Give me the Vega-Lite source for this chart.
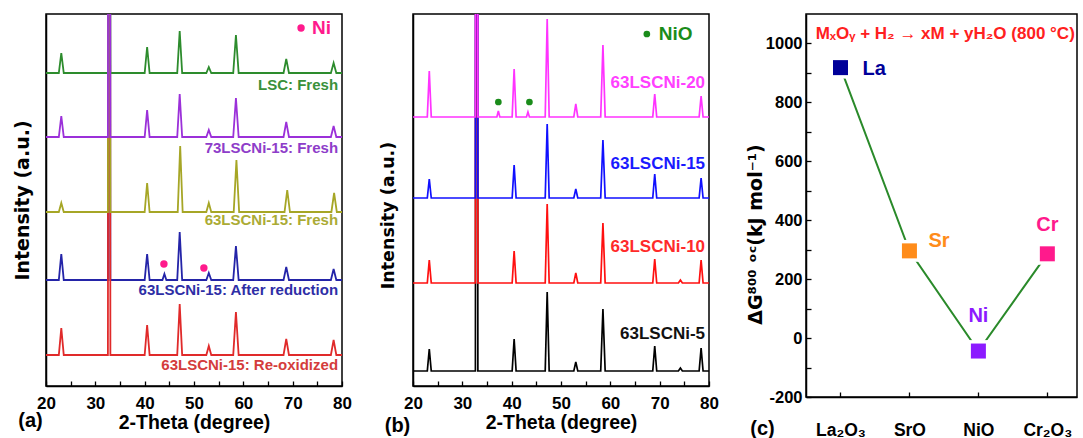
{
"$schema":"https://vega.github.io/schema/vega-lite/v6.json",
"padding":{"left":12,"top":13,"right":0,"bottom":0},
"spacing":25,
"background":"white",
"config":{
 "font":"Liberation Sans",
 "view":{"stroke":"black","strokeWidth":1.5},
 "axis":{"grid":false,"domainColor":"black","domainWidth":1.5,"tickColor":"black","tickWidth":1.3,"labelFont":"Liberation Sans","labelFontWeight":"bold","labelColor":"black","titleFont":"Liberation Sans","titleFontWeight":"bold","titleColor":"black","labelFlush":false,"labelOverlap":false},
 "text":{"font":"Liberation Sans","fontWeight":"bold"}
},
"resolve":{"scale":{"color":"independent"}},
"datasets":{
 "xrdA":[
  {"s":"g","x":20,"y":313},{"s":"g","x":22.6,"y":313},{"s":"g","x":23.1,"y":333},{"s":"g","x":23.6,"y":313},{"s":"g","x":32.55,"y":313},{"s":"g","x":32.8,"y":1500},{"s":"g","x":33.05,"y":313},{"s":"g","x":40.0,"y":313},{"s":"g","x":40.5,"y":339},{"s":"g","x":41.0,"y":313},{"s":"g","x":46.6,"y":313},{"s":"g","x":47.1,"y":355},{"s":"g","x":47.6,"y":313},{"s":"g","x":52.5,"y":313},{"s":"g","x":53.0,"y":319},{"s":"g","x":53.5,"y":313},{"s":"g","x":57.95,"y":313},{"s":"g","x":58.5,"y":351},{"s":"g","x":59.05,"y":313},{"s":"g","x":68.15,"y":313},{"s":"g","x":68.7,"y":327},{"s":"g","x":69.25,"y":313},{"s":"g","x":77.75,"y":313},{"s":"g","x":78.3,"y":323},{"s":"g","x":78.85,"y":313},{"s":"g","x":80,"y":313},
  {"s":"p","x":20,"y":249},{"s":"p","x":22.6,"y":249},{"s":"p","x":23.1,"y":270},{"s":"p","x":23.6,"y":249},{"s":"p","x":32.55,"y":249},{"s":"p","x":32.8,"y":1500},{"s":"p","x":33.05,"y":249},{"s":"p","x":40.0,"y":249},{"s":"p","x":40.5,"y":276},{"s":"p","x":41.0,"y":249},{"s":"p","x":46.6,"y":249},{"s":"p","x":47.1,"y":292},{"s":"p","x":47.6,"y":249},{"s":"p","x":52.5,"y":249},{"s":"p","x":53.0,"y":256},{"s":"p","x":53.5,"y":249},{"s":"p","x":57.95,"y":249},{"s":"p","x":58.5,"y":288},{"s":"p","x":59.05,"y":249},{"s":"p","x":68.15,"y":249},{"s":"p","x":68.7,"y":264},{"s":"p","x":69.25,"y":249},{"s":"p","x":77.75,"y":249},{"s":"p","x":78.3,"y":260},{"s":"p","x":78.85,"y":249},{"s":"p","x":80,"y":249},
  {"s":"o","x":20,"y":174},{"s":"o","x":22.6,"y":174},{"s":"o","x":23.1,"y":183},{"s":"o","x":23.6,"y":174},{"s":"o","x":32.55,"y":174},{"s":"o","x":32.8,"y":1500},{"s":"o","x":33.05,"y":174},{"s":"o","x":40.0,"y":174},{"s":"o","x":40.5,"y":203},{"s":"o","x":41.0,"y":174},{"s":"o","x":46.7,"y":174},{"s":"o","x":47.2,"y":240},{"s":"o","x":47.7,"y":174},{"s":"o","x":52.5,"y":174},{"s":"o","x":53.0,"y":183},{"s":"o","x":53.5,"y":174},{"s":"o","x":58.05,"y":174},{"s":"o","x":58.6,"y":226},{"s":"o","x":59.15,"y":174},{"s":"o","x":68.35,"y":174},{"s":"o","x":68.9,"y":196},{"s":"o","x":69.45,"y":174},{"s":"o","x":77.85,"y":174},{"s":"o","x":78.4,"y":193},{"s":"o","x":78.95,"y":174},{"s":"o","x":80,"y":174},
  {"s":"b","x":20,"y":106},{"s":"b","x":22.6,"y":106},{"s":"b","x":23.1,"y":132},{"s":"b","x":23.6,"y":106},{"s":"b","x":32.55,"y":106},{"s":"b","x":32.8,"y":1500},{"s":"b","x":33.05,"y":106},{"s":"b","x":40.0,"y":106},{"s":"b","x":40.5,"y":132},{"s":"b","x":41.0,"y":106},{"s":"b","x":43.6,"y":106},{"s":"b","x":44.0,"y":112},{"s":"b","x":44.4,"y":106},{"s":"b","x":46.6,"y":106},{"s":"b","x":47.1,"y":154},{"s":"b","x":47.6,"y":106},{"s":"b","x":52.5,"y":106},{"s":"b","x":53.0,"y":113},{"s":"b","x":53.5,"y":106},{"s":"b","x":57.95,"y":106},{"s":"b","x":58.5,"y":140},{"s":"b","x":59.05,"y":106},{"s":"b","x":68.15,"y":106},{"s":"b","x":68.7,"y":119},{"s":"b","x":69.25,"y":106},{"s":"b","x":77.75,"y":106},{"s":"b","x":78.3,"y":117},{"s":"b","x":78.85,"y":106},{"s":"b","x":80,"y":106},
  {"s":"r","x":20,"y":31},{"s":"r","x":22.6,"y":31},{"s":"r","x":23.1,"y":58},{"s":"r","x":23.6,"y":31},{"s":"r","x":32.55,"y":31},{"s":"r","x":32.8,"y":1500},{"s":"r","x":33.05,"y":31},{"s":"r","x":40.0,"y":31},{"s":"r","x":40.5,"y":61},{"s":"r","x":41.0,"y":31},{"s":"r","x":46.6,"y":31},{"s":"r","x":47.1,"y":82},{"s":"r","x":47.6,"y":31},{"s":"r","x":52.5,"y":31},{"s":"r","x":53.0,"y":40},{"s":"r","x":53.5,"y":31},{"s":"r","x":57.95,"y":31},{"s":"r","x":58.5,"y":74},{"s":"r","x":59.05,"y":31},{"s":"r","x":68.15,"y":31},{"s":"r","x":68.7,"y":47},{"s":"r","x":69.25,"y":31},{"s":"r","x":77.75,"y":31},{"s":"r","x":78.3,"y":46},{"s":"r","x":78.85,"y":31},{"s":"r","x":80,"y":31}
 ],
 "xrdB":[
  {"s":"m","x":20,"y":269},{"s":"m","x":22.9,"y":269},{"s":"m","x":23.3,"y":315},{"s":"m","x":23.7,"y":269},{"s":"m","x":32.65,"y":269},{"s":"m","x":32.9,"y":1500},{"s":"m","x":33.15,"y":269},{"s":"m","x":37.0,"y":269},{"s":"m","x":37.3,"y":275},{"s":"m","x":37.6,"y":269},{"s":"m","x":40.1,"y":269},{"s":"m","x":40.5,"y":317},{"s":"m","x":40.9,"y":269},{"s":"m","x":43.0,"y":269},{"s":"m","x":43.3,"y":274},{"s":"m","x":43.6,"y":269},{"s":"m","x":46.8,"y":269},{"s":"m","x":47.2,"y":367},{"s":"m","x":47.6,"y":269},{"s":"m","x":52.6,"y":269},{"s":"m","x":53.0,"y":282},{"s":"m","x":53.4,"y":269},{"s":"m","x":58.05,"y":269},{"s":"m","x":58.5,"y":341},{"s":"m","x":58.95,"y":269},{"s":"m","x":68.6,"y":269},{"s":"m","x":69.0,"y":292},{"s":"m","x":69.4,"y":269},{"s":"m","x":78.0,"y":269},{"s":"m","x":78.4,"y":290},{"s":"m","x":78.8,"y":269},{"s":"m","x":80,"y":269},
  {"s":"b","x":20,"y":188},{"s":"b","x":22.9,"y":188},{"s":"b","x":23.3,"y":207},{"s":"b","x":23.7,"y":188},{"s":"b","x":32.65,"y":188},{"s":"b","x":32.9,"y":1500},{"s":"b","x":33.15,"y":188},{"s":"b","x":40.1,"y":188},{"s":"b","x":40.5,"y":221},{"s":"b","x":40.9,"y":188},{"s":"b","x":46.8,"y":188},{"s":"b","x":47.2,"y":262},{"s":"b","x":47.6,"y":188},{"s":"b","x":52.6,"y":188},{"s":"b","x":53.0,"y":197},{"s":"b","x":53.4,"y":188},{"s":"b","x":58.05,"y":188},{"s":"b","x":58.5,"y":246},{"s":"b","x":58.95,"y":188},{"s":"b","x":68.6,"y":188},{"s":"b","x":69.0,"y":212},{"s":"b","x":69.4,"y":188},{"s":"b","x":78.0,"y":188},{"s":"b","x":78.4,"y":208},{"s":"b","x":78.8,"y":188},{"s":"b","x":80,"y":188},
  {"s":"r","x":20,"y":103},{"s":"r","x":22.9,"y":103},{"s":"r","x":23.3,"y":126},{"s":"r","x":23.7,"y":103},{"s":"r","x":32.65,"y":103},{"s":"r","x":32.9,"y":1500},{"s":"r","x":33.15,"y":103},{"s":"r","x":40.1,"y":103},{"s":"r","x":40.5,"y":135},{"s":"r","x":40.9,"y":103},{"s":"r","x":46.8,"y":103},{"s":"r","x":47.2,"y":182},{"s":"r","x":47.6,"y":103},{"s":"r","x":52.6,"y":103},{"s":"r","x":53.0,"y":113},{"s":"r","x":53.4,"y":103},{"s":"r","x":58.05,"y":103},{"s":"r","x":58.5,"y":163},{"s":"r","x":58.95,"y":103},{"s":"r","x":68.6,"y":103},{"s":"r","x":69.0,"y":127},{"s":"r","x":69.4,"y":103},{"s":"r","x":73.8,"y":103},{"s":"r","x":74.2,"y":106},{"s":"r","x":74.6,"y":103},{"s":"r","x":78.0,"y":103},{"s":"r","x":78.4,"y":126},{"s":"r","x":78.8,"y":103},{"s":"r","x":80,"y":103},
  {"s":"k","x":20,"y":15},{"s":"k","x":22.9,"y":15},{"s":"k","x":23.3,"y":37},{"s":"k","x":23.7,"y":15},{"s":"k","x":32.65,"y":15},{"s":"k","x":32.9,"y":1500},{"s":"k","x":33.15,"y":15},{"s":"k","x":40.1,"y":15},{"s":"k","x":40.5,"y":47},{"s":"k","x":40.9,"y":15},{"s":"k","x":46.8,"y":15},{"s":"k","x":47.2,"y":94},{"s":"k","x":47.6,"y":15},{"s":"k","x":52.6,"y":15},{"s":"k","x":53.0,"y":24},{"s":"k","x":53.4,"y":15},{"s":"k","x":58.05,"y":15},{"s":"k","x":58.5,"y":77},{"s":"k","x":58.95,"y":15},{"s":"k","x":68.6,"y":15},{"s":"k","x":69.0,"y":40},{"s":"k","x":69.4,"y":15},{"s":"k","x":73.8,"y":15},{"s":"k","x":74.2,"y":18},{"s":"k","x":74.6,"y":15},{"s":"k","x":78.0,"y":15},{"s":"k","x":78.4,"y":38},{"s":"k","x":78.8,"y":15},{"s":"k","x":80,"y":15}
 ],
 "dg":[
  {"ox":"La2O3","x":1,"dg":918,"el":"La"},{"ox":"SrO","x":2,"dg":296,"el":"Sr"},{"ox":"NiO","x":3,"dg":-44,"el":"Ni"},{"ox":"Cr2O3","x":4,"dg":286,"el":"Cr"}
 ]
},
"hconcat":[
 {
  "width":296,"height":372,
  "encoding":{
   "x":{"field":"x","type":"quantitative","scale":{"domain":[20,80],"nice":false,"zero":false},
        "axis":{"values":[20,25,30,35,40,45,50,55,60,65,70,75,80],"labelExpr":"datum.value % 10 === 0 ? '' + datum.value : ''","tickSize":-5,"labelPadding":14,"labelFontSize":17,"title":"2-Theta (degree)","titleFontSize":19.5,"titlePadding":2}},
   "y":{"field":"y","type":"quantitative","scale":{"domain":[0,372],"nice":false,"zero":false},
        "axis":{"ticks":false,"labels":false,"title":"Intensity (a.u.)","titleFont":"DejaVu Sans","titleFontSize":19,"titlePadding":14}}
  },
  "layer":[
   {"data":{"name":"xrdA"},"transform":[{"filter":"datum.s === 'b'"}],"mark":{"type":"line","color":"#2424a8","strokeWidth":1.8,"clip":true},"encoding":{}},
   {"data":{"name":"xrdA"},"transform":[{"filter":"datum.s === 'r'"}],"mark":{"type":"line","color":"#e02a2a","strokeWidth":1.8,"clip":true},"encoding":{}},
   {"data":{"name":"xrdA"},"transform":[{"filter":"datum.s === 'g'"}],"mark":{"type":"line","color":"#2d8c2d","strokeWidth":1.8,"clip":true},"encoding":{}},
   {"data":{"name":"xrdA"},"transform":[{"filter":"datum.s === 'o'"}],"mark":{"type":"line","color":"#a6a626","strokeWidth":1.8,"clip":true},"encoding":{}},
   {"data":{"name":"xrdA"},"transform":[{"filter":"datum.s === 'p'"}],"mark":{"type":"line","color":"#9b30d9","strokeWidth":1.8,"clip":true},"encoding":{}},
   {"data":{"values":[{"s":"LSC: Fresh","x":79.2,"y":301.5},{"s":"73LSCNi-15: Fresh","x":79.2,"y":238},{"s":"63LSCNi-15: Fresh","x":79.2,"y":166},{"s":"63LSCNi-15: After reduction","x":79.2,"y":96},{"s":"63LSCNi-15: Re-oxidized","x":79.2,"y":21}]},
    "mark":{"type":"text","align":"right","baseline":"middle","fontSize":15,"fontWeight":"bold"},
    "encoding":{"text":{"field":"s"},"color":{"field":"s","type":"nominal","legend":null,"scale":{"domain":["LSC: Fresh","73LSCNi-15: Fresh","63LSCNi-15: Fresh","63LSCNi-15: After reduction","63LSCNi-15: Re-oxidized"],"range":["#3a913a","#8e3dc9","#abab35","#2e2ea6","#d43c3c"]}}}},
   {"data":{"values":[{"x":43.9,"y":122},{"x":52.0,"y":118},{"x":71.7,"y":358}]},"mark":{"type":"circle","size":55,"opacity":1,"color":"#ff1a8c"},"encoding":{}},
   {"data":{"values":[{"t":"Ni","x":73.9,"y":358}]},"mark":{"type":"text","align":"left","baseline":"middle","fontSize":19,"fontWeight":"bold","color":"#ff1a8c"},"encoding":{"text":{"field":"t"}}},
   {"data":{"values":[{"t":"(a)","x":16.86,"y":-35}]},"mark":{"type":"text","align":"center","baseline":"middle","fontSize":20,"fontWeight":"bold","color":"black"},"encoding":{"text":{"field":"t"}}}
  ]
 },
 {
  "width":296,"height":372,
  "encoding":{
   "x":{"field":"x","type":"quantitative","scale":{"domain":[20,80],"nice":false,"zero":false},
        "axis":{"values":[20,25,30,35,40,45,50,55,60,65,70,75,80],"labelExpr":"datum.value % 10 === 0 ? '' + datum.value : ''","tickSize":-5,"labelPadding":14,"labelFontSize":17,"title":"2-Theta (degree)","titleFontSize":19.5,"titlePadding":2}},
   "y":{"field":"y","type":"quantitative","scale":{"domain":[0,372],"nice":false,"zero":false},
        "axis":{"ticks":false,"labels":false,"title":"Intensity (a.u.)","titleFont":"DejaVu Sans","titleFontSize":17.5,"titlePadding":16,"titleY":201}}
  },
  "layer":[
   {"data":{"name":"xrdB"},"transform":[{"filter":"datum.s === 'k'"}],"mark":{"type":"line","color":"#000000","strokeWidth":1.7,"clip":true},"encoding":{}},
   {"data":{"name":"xrdB"},"transform":[{"filter":"datum.s === 'r'"}],"mark":{"type":"line","color":"#ff1010","strokeWidth":1.7,"clip":true},"encoding":{}},
   {"data":{"name":"xrdB"},"transform":[{"filter":"datum.s === 'b'"}],"mark":{"type":"line","color":"#1010ff","strokeWidth":1.7,"clip":true},"encoding":{}},
   {"data":{"name":"xrdB"},"transform":[{"filter":"datum.s === 'm'"}],"mark":{"type":"line","color":"#ff33ff","strokeWidth":1.7,"clip":true},"encoding":{}},
   {"data":{"values":[{"s":"63LSCNi-20","x":79.2,"y":303},{"s":"63LSCNi-15","x":79.2,"y":222},{"s":"63LSCNi-10","x":79.2,"y":139},{"s":"63LSCNi-5","x":79.2,"y":52}]},
    "mark":{"type":"text","align":"right","baseline":"middle","fontSize":17,"fontWeight":"bold"},
    "encoding":{"text":{"field":"s"},"color":{"field":"s","type":"nominal","legend":null,"scale":{"domain":["63LSCNi-20","63LSCNi-15","63LSCNi-10","63LSCNi-5"],"range":["#ff40ff","#1a1aff","#ff2a2a","#111111"]}}}},
   {"data":{"values":[{"x":37.3,"y":284},{"x":43.6,"y":284},{"x":67.4,"y":352}]},"mark":{"type":"circle","size":45,"opacity":1,"color":"#1a8c1a"},"encoding":{}},
   {"data":{"values":[{"t":"NiO","x":69.8,"y":352}]},"mark":{"type":"text","align":"left","baseline":"middle","fontSize":19,"fontWeight":"bold","color":"#1a8c1a"},"encoding":{"text":{"field":"t"}}},
   {"data":{"values":[{"t":"(b)","x":16.86,"y":-40}]},"mark":{"type":"text","align":"center","baseline":"middle","fontSize":20,"fontWeight":"bold","color":"black"},"encoding":{"text":{"field":"t"}}}
  ]
 },
 {
  "width":271,"height":383,
  "encoding":{
   "x":{"field":"x","type":"quantitative","scale":{"domain":[0.5,4.43],"nice":false,"zero":false},
        "axis":{"values":[1,2,3,4],"labelExpr":"datum.value === 1 ? 'La₂O₃' : datum.value === 2 ? 'SrO' : datum.value === 3 ? 'NiO' : 'Cr₂O₃'","tickSize":-5,"labelPadding":29,"labelFontSize":17.5,"title":null}},
   "y":{"field":"dg","type":"quantitative","scale":{"domain":[-200,1100],"nice":false,"zero":false},
        "axis":{"values":[-200,-100,0,100,200,300,400,500,600,700,800,900,1000],"labelExpr":"datum.value % 200 === 0 ? '' + datum.value : ''","tickSize":-5,"labelPadding":9,"labelFontSize":16.5,"title":"ΔG⁸⁰⁰ ᵒᶜ(kJ mol⁻¹)","titleFont":"DejaVu Sans","titleFontSize":19,"titlePadding":0,"titleY":220}}
  },
  "layer":[
   {"data":{"name":"dg"},"mark":{"type":"line","color":"#2a8a2a","strokeWidth":2},"encoding":{}},
   {"data":{"name":"dg"},"mark":{"type":"point","shape":"square","filled":true,"opacity":1,"color":"white","size":480},"encoding":{}},
   {"data":{"name":"dg"},"mark":{"type":"point","shape":"square","filled":true,"opacity":1,"size":225},
    "encoding":{"color":{"field":"el","type":"nominal","legend":null,"scale":{"domain":["La","Sr","Ni","Cr"],"range":["#000099","#ff8c1a","#8c1aff","#ff1a8c"]}}}},
   {"data":{"values":[{"el":"La","x":1.49,"dg":915},{"el":"Sr","x":2.43,"dg":330},{"el":"Ni","x":3.0,"dg":75},{"el":"Cr","x":4.0,"dg":384}]},
    "mark":{"type":"text","align":"center","baseline":"middle","fontSize":20,"fontWeight":"bold"},
    "encoding":{"text":{"field":"el"},"color":{"field":"el","type":"nominal","legend":null,"scale":{"domain":["La","Sr","Ni","Cr"],"range":["#000099","#ff8c1a","#8c1aff","#ff1a8c"]}}}},
   {"data":{"values":[{"t":"MₓOᵧ + H₂ → xM + yH₂O (800 °C)","x":0.64,"dg":1032}]},"mark":{"type":"text","align":"left","baseline":"middle","fontSize":17,"fontWeight":"bold","color":"#ff2020"},"encoding":{"text":{"field":"t"}}},
   {"data":{"values":[{"t":"(c)","x":-0.13,"dg":-308}]},"mark":{"type":"text","align":"center","baseline":"middle","fontSize":20,"fontWeight":"bold","color":"black"},"encoding":{"text":{"field":"t"}}}
  ]
 }
]
}
